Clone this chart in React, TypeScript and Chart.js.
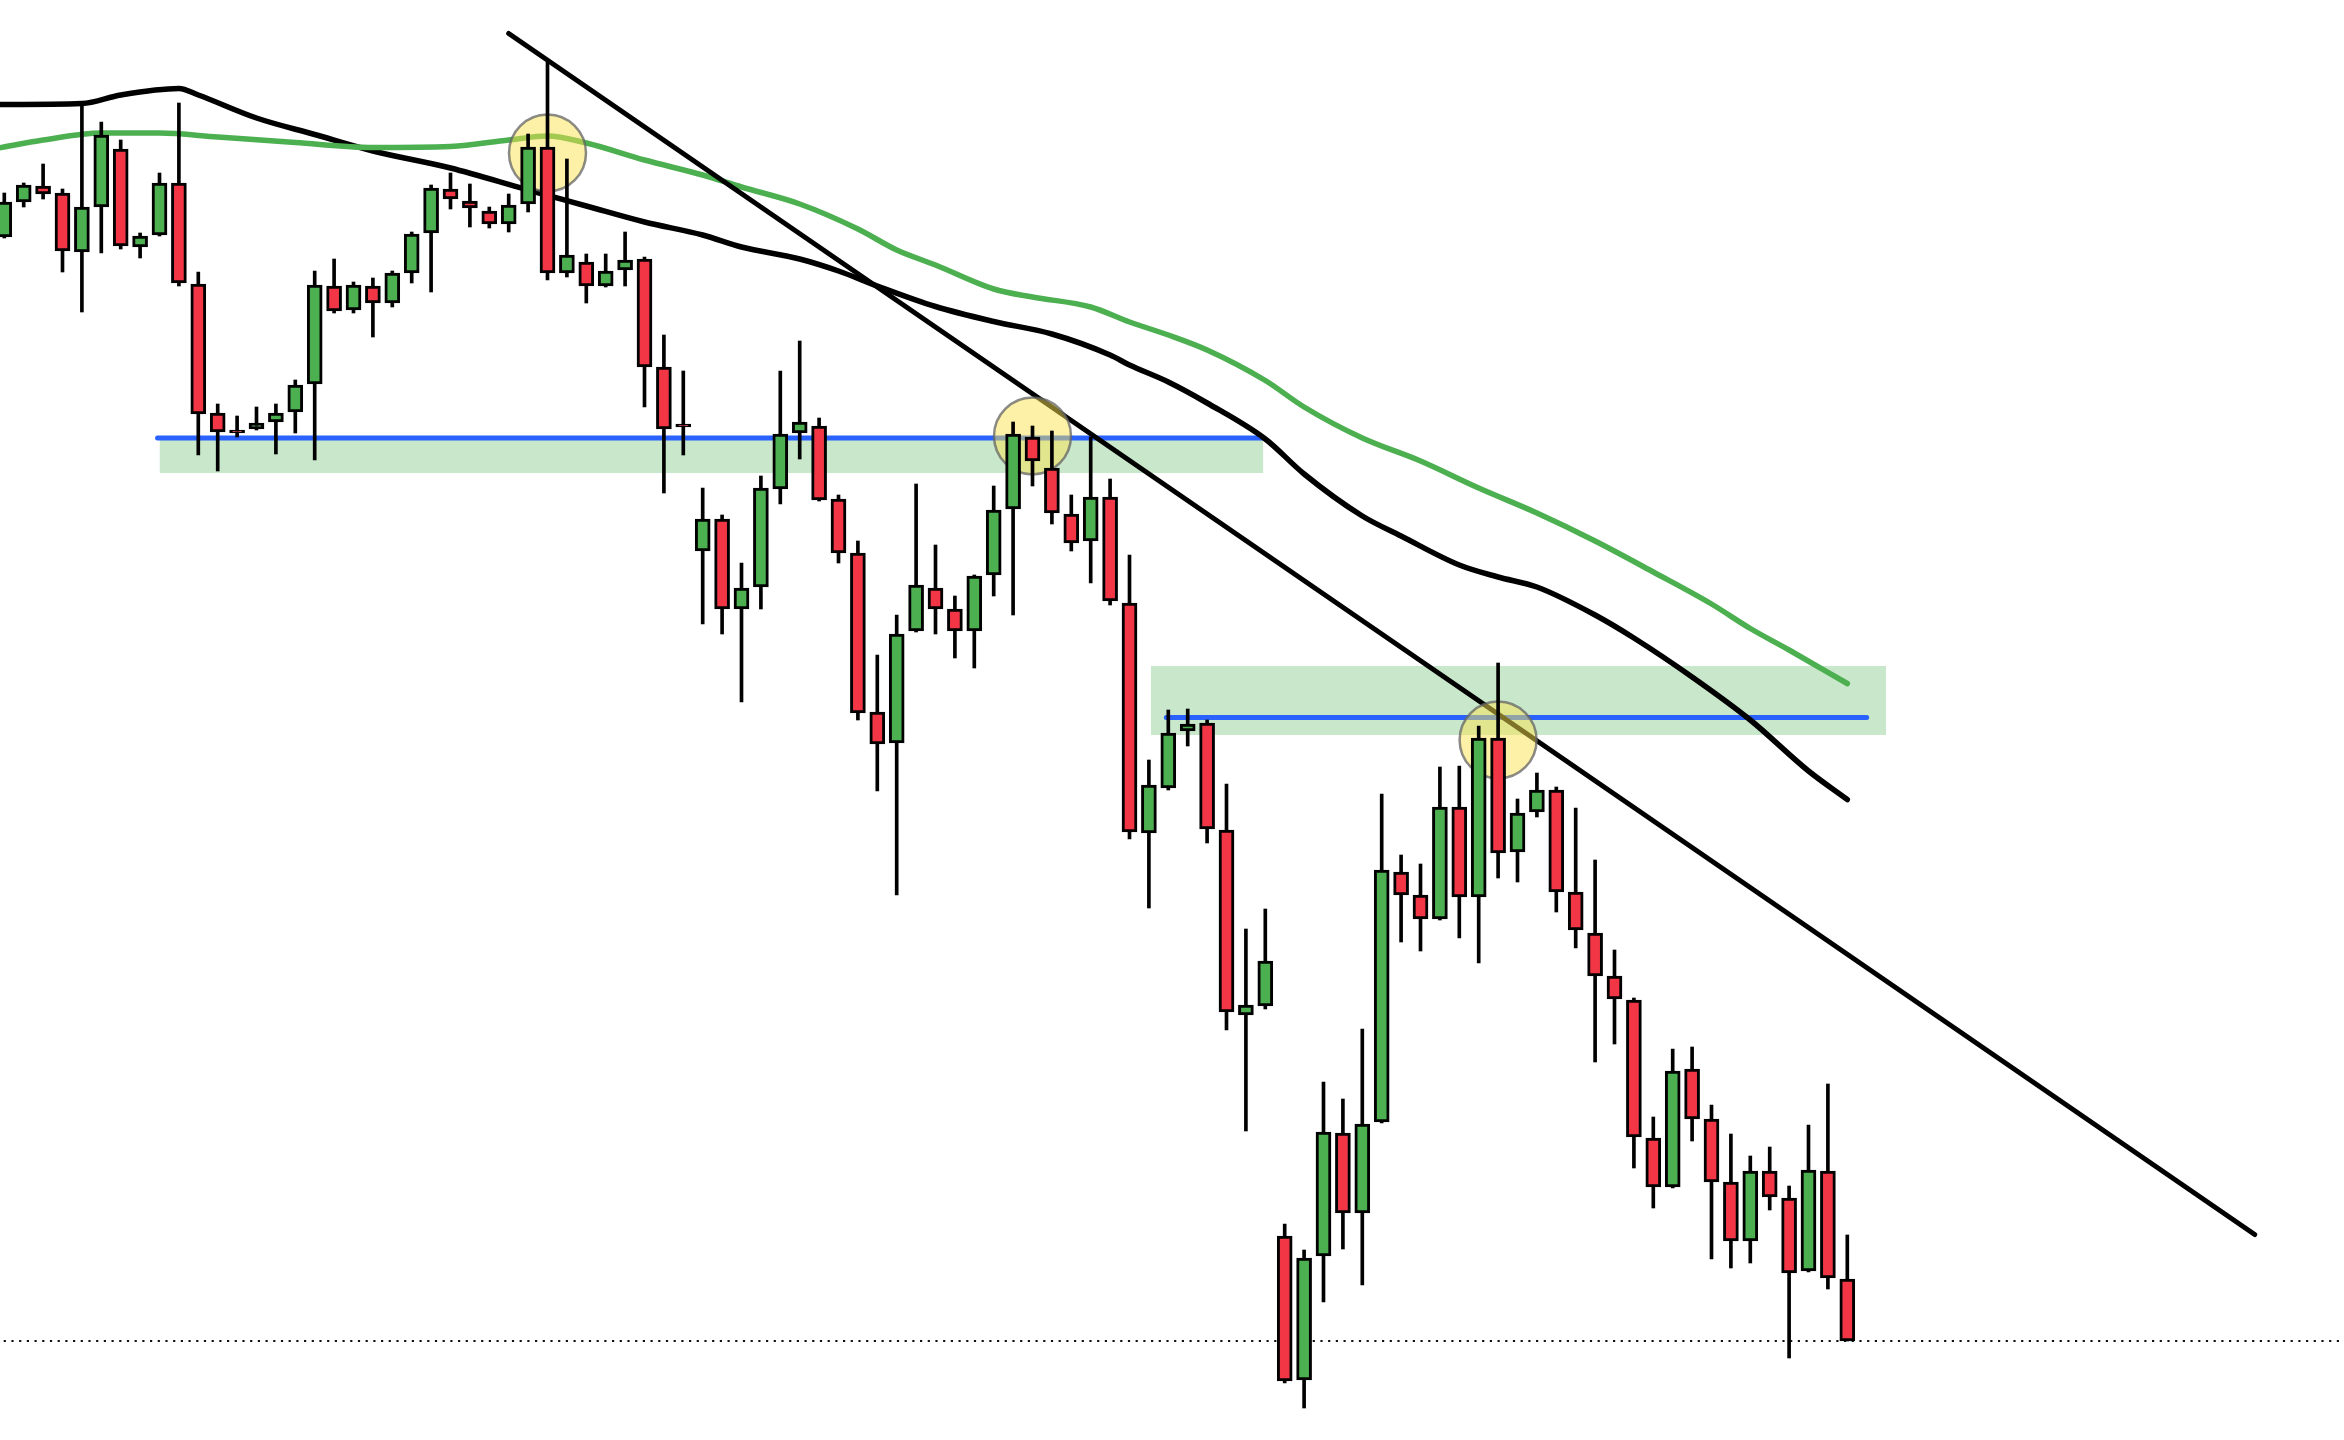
import { useEffect, useRef } from "react";
import { Chart, registerables } from "chart.js";

Chart.register(...registerables);

// ---- Candles (index = position on the time axis) ----
const opens = [
  1.2763, 1.2798, 1.2814, 1.2807, 1.2748, 1.2793, 1.2851, 1.2753, 1.2765, 1.2817,
  1.2716, 1.2587, 1.2570, 1.2571, 1.2578, 1.2588, 1.2616, 1.2714, 1.2690, 1.2714,
  1.2697, 1.2727, 1.2767, 1.2811, 1.2799, 1.2789, 1.2776, 1.2796, 1.2853, 1.2727,
  1.2738, 1.2714, 1.2730, 1.2741, 1.2633, 1.2576, 1.2449, 1.2481, 1.2391, 1.2413,
  1.2511, 1.2567, 1.2574, 1.2501, 1.2447, 1.2288, 1.2257, 1.2369, 1.2412, 1.2391,
  1.2369, 1.2425, 1.2491, 1.2563, 1.2532, 1.2486, 1.2459, 1.2503, 1.2397, 1.2167,
  1.2212, 1.2269, 1.2277, 1.2170, 1.1985, 1.1994, 1.1764, 1.1620, 1.1744, 1.1867,
  1.1787, 1.1878, 1.2128, 1.2105, 1.2081, 1.2193, 1.2103, 1.2262, 1.2148, 1.2188,
  1.2210, 1.2108, 1.2067, 1.2024, 1.2000, 1.1862, 1.1813, 1.1931, 1.1881, 1.1818,
  1.1759, 1.1829, 1.1802, 1.1729, 1.1829, 1.1721,
];
const highs = [
  1.2807, 1.2817, 1.2836, 1.2811, 1.2897, 1.2878, 1.2860, 1.2767, 1.2827, 1.2897,
  1.2728, 1.2596, 1.2584, 1.2593, 1.2596, 1.2620, 1.2729, 1.2741, 1.2718, 1.2722,
  1.2729, 1.2768, 1.2815, 1.2827, 1.2816, 1.2793, 1.2806, 1.2866, 1.2938, 1.2841,
  1.2746, 1.2746, 1.2768, 1.2743, 1.2665, 1.2629, 1.2512, 1.2485, 1.2437, 1.2524,
  1.2629, 1.2659, 1.2582, 1.2505, 1.2459, 1.2345, 1.2385, 1.2516, 1.2455, 1.2404,
  1.2425, 1.2514, 1.2578, 1.2574, 1.2569, 1.2505, 1.2563, 1.2521, 1.2445, 1.2240,
  1.2290, 1.2291, 1.2280, 1.2216, 1.2071, 1.2091, 1.1776, 1.1750, 1.1918, 1.1901,
  1.1971, 1.2206, 1.2145, 1.2136, 1.2233, 1.2234, 1.2274, 1.2337, 1.2201, 1.2227,
  1.2213, 1.2192, 1.2140, 1.2050, 1.2002, 1.1883, 1.1951, 1.1953, 1.1895, 1.1866,
  1.1844, 1.1853, 1.1814, 1.1875, 1.1916, 1.1765,
];
const lows = [
  1.2762, 1.2793, 1.2801, 1.2728, 1.2688, 1.2747, 1.2751, 1.2742, 1.2764, 1.2714,
  1.2545, 1.2529, 1.2563, 1.2570, 1.2546, 1.2567, 1.2540, 1.2687, 1.2687, 1.2663,
  1.2693, 1.2717, 1.2708, 1.2791, 1.2773, 1.2772, 1.2768, 1.2788, 1.2720, 1.2723,
  1.2697, 1.2713, 1.2714, 1.2593, 1.2507, 1.2545, 1.2376, 1.2366, 1.2298, 1.2391,
  1.2496, 1.2541, 1.2499, 1.2437, 1.2280, 1.2209, 1.2105, 1.2368, 1.2366, 1.2342,
  1.2332, 1.2404, 1.2385, 1.2514, 1.2476, 1.2449, 1.2417, 1.2395, 1.2161, 1.2092,
  1.2210, 1.2254, 1.2157, 1.1970, 1.1869, 1.1991, 1.1617, 1.1592, 1.1698, 1.1751,
  1.1715, 1.1877, 1.2058, 1.2049, 1.2080, 1.2062, 1.2037, 1.2122, 1.2118, 1.2183,
  1.2088, 1.2052, 1.1938, 1.1956, 1.1832, 1.1792, 1.1812, 1.1859, 1.1741, 1.1732,
  1.1737, 1.1790, 1.1642, 1.1728, 1.1711, 1.1659,
];
const closes = [
  1.2798, 1.2815, 1.2806, 1.2749, 1.2793, 1.2865, 1.2754, 1.2764, 1.2817, 1.2717,
  1.2586, 1.2568, 1.2567, 1.2577, 1.2587, 1.2615, 1.2715, 1.2689, 1.2715, 1.2697,
  1.2727, 1.2766, 1.2812, 1.2801, 1.2792, 1.2776, 1.2795, 1.2853, 1.2727, 1.2745,
  1.2714, 1.2729, 1.2740, 1.2633, 1.2571, 1.2573, 1.2481, 1.2391, 1.2412, 1.2512,
  1.2566, 1.2578, 1.2500, 1.2447, 1.2287, 1.2256, 1.2366, 1.2415, 1.2391, 1.2369,
  1.2424, 1.2490, 1.2566, 1.2539, 1.2487, 1.2457, 1.2503, 1.2399, 1.2168, 1.2215,
  1.2267, 1.2276, 1.2171, 1.1988, 1.1995, 1.2039, 1.1619, 1.1742, 1.1868, 1.1787,
  1.1876, 1.2130, 1.2105, 1.2081, 1.2193, 1.2103, 1.2262, 1.2147, 1.2187, 1.2210,
  1.2108, 1.2070, 1.2024, 1.2001, 1.1863, 1.1813, 1.1929, 1.1881, 1.1818, 1.1759,
  1.1829, 1.1803, 1.1727, 1.1830, 1.1722, 1.1659,
];

// ---- Moving averages (read at these candle indices) ----
const maSlowX = [-0.3, 4, 6, 9, 10, 13, 16, 19, 23, 27, 30, 33, 36, 38, 41, 43, 45, 48, 51, 54, 57, 58, 60, 62, 65, 67, 70, 72, 75, 77, 79, 82, 84, 87, 90, 93, 95];
const maSlowY = [
  1.28955, 1.28965, 1.2905, 1.29115, 1.2905, 1.2882, 1.28655, 1.2849, 1.2832, 1.2810,
  1.2794, 1.2778, 1.2765, 1.2753, 1.2741, 1.2729, 1.2714, 1.26935, 1.26785, 1.2666,
  1.2645, 1.2635, 1.2618, 1.2597, 1.2561, 1.2526, 1.2484, 1.2464, 1.2435, 1.2423,
  1.2413, 1.2385, 1.2362, 1.2323, 1.2280, 1.2229, 1.22005,
];
const maFastX = [-0.3, 2, 5, 8, 11, 15, 19, 23, 26, 28, 30, 33, 36, 38, 41, 44, 46, 48, 51, 53, 56, 58, 60, 62, 65, 67, 70, 73, 76, 79, 82, 85, 88, 90, 92, 95];
const maFastY = [
  1.2852, 1.2860, 1.2867, 1.2867, 1.2863, 1.28575, 1.28525, 1.28535, 1.2860, 1.2864,
  1.2857, 1.2840, 1.2825, 1.2813, 1.2796, 1.2771, 1.2750, 1.2735, 1.2711, 1.2703,
  1.2693, 1.2678, 1.2665, 1.2650, 1.26195, 1.2593, 1.2562, 1.2539, 1.2512, 1.2487,
  1.2459, 1.2428, 1.2396, 1.23715, 1.2350, 1.23165,
];

// ---- Drawn annotations ----
const trendX = [26, 116];
const trendY = [1.29665, 1.17655];

const levelStart = [7.9, 59.9];
const levelEnd = [64.9, 96.0];
const levelPrice = [1.2562, 1.22825];

const zoneStart = [8.0, 59.1];
const zoneEnd = [64.9, 97.0];
const zoneTop = [1.2560, 1.2334];
const zoneBottom = [1.2527, 1.2265];

const circleX = [28, 53, 77];
const circleY = [1.2847, 1.2564, 1.2260];

const lastPrice = 1.1659;

// scale bounds
const X_MIN = -0.2216;
const X_MAX = 120.603;
const Y_MIN = 1.156;
const Y_MAX = 1.3;

const UP = "#4caf50";
const DOWN = "#f23645";

export default function App() {
  const ref = useRef<HTMLCanvasElement>(null);

  useEffect(() => {
    const idx = opens.map((_, i) => i);
    const datasets: any[] = [];

    zoneStart.forEach((s, k) => {
      datasets.push({
        type: "line",
        data: [
          { x: s, y: zoneTop[k] },
          { x: zoneEnd[k], y: zoneTop[k] },
        ],
        borderWidth: 0,
        pointRadius: 0,
        backgroundColor: "rgba(76,175,80,0.3)",
        fill: { value: zoneBottom[k] },
        order: 20,
      });
    });

    levelStart.forEach((s, k) => {
      datasets.push({
        type: "line",
        data: [
          { x: s, y: levelPrice[k] },
          { x: levelEnd[k], y: levelPrice[k] },
        ],
        borderColor: "#2962ff",
        borderWidth: 5,
        borderCapStyle: "round",
        pointRadius: 0,
        fill: false,
        order: 18,
      });
    });

    datasets.push({
      type: "line",
      data: [
        { x: X_MIN - 1, y: lastPrice },
        { x: X_MAX + 1, y: lastPrice },
      ],
      borderColor: "#111",
      borderWidth: 2.2,
      borderDash: [2.2, 5.5],
      pointRadius: 0,
      fill: false,
      order: 17,
    });

    datasets.push({
      type: "line",
      data: maSlowX.map((x, i) => ({ x, y: maSlowY[i] })),
      borderColor: "#000",
      borderWidth: 5.5,
      borderCapStyle: "round",
      borderJoinStyle: "round",
      cubicInterpolationMode: "monotone",
      pointRadius: 0,
      fill: false,
      order: 15,
    });

    datasets.push({
      type: "line",
      data: maFastX.map((x, i) => ({ x, y: maFastY[i] })),
      borderColor: UP,
      borderWidth: 5.5,
      borderCapStyle: "round",
      borderJoinStyle: "round",
      cubicInterpolationMode: "monotone",
      pointRadius: 0,
      fill: false,
      order: 14,
    });

    datasets.push({
      type: "line",
      data: trendX.map((x, i) => ({ x, y: trendY[i] })),
      borderColor: "#000",
      borderWidth: 5,
      borderCapStyle: "round",
      pointRadius: 0,
      fill: false,
      order: 12,
    });

    datasets.push({
      type: "bubble",
      data: circleX.map((x, i) => ({ x, y: circleY[i], r: 38.5 })),
      backgroundColor: "rgba(250,228,80,0.5)",
      borderColor: "rgba(100,100,100,0.75)",
      borderWidth: 2.5,
      order: 11,
    });

    datasets.push({
      type: "bar",
      data: idx.map((i) => ({ x: i, y: [lows[i], highs[i]] })),
      backgroundColor: "#000",
      borderWidth: 0,
      barThickness: 3,
      grouped: false,
      order: 10,
    });

    datasets.push({
      type: "bar",
      data: idx.map((i) => ({ x: i, y: [opens[i], closes[i]] })),
      backgroundColor: idx.map((i) => (closes[i] > opens[i] ? UP : DOWN)),
      borderColor: "#000",
      borderWidth: 3,
      borderSkipped: false,
      barThickness: 15,
      grouped: false,
      order: 9,
    });

    const chart = new Chart(ref.current as HTMLCanvasElement, {
      type: "bar",
      data: { datasets },
      options: {
        responsive: false,
        animation: false,
        events: [],
        layout: { padding: 0, autoPadding: false },
        plugins: { legend: { display: false }, tooltip: { enabled: false } },
        scales: {
          x: {
            type: "linear",
            min: X_MIN,
            max: X_MAX,
            display: false,
            offset: false,
            bounds: "data",
          },
          y: {
            type: "linear",
            min: Y_MIN,
            max: Y_MAX,
            display: false,
            beginAtZero: false,
            bounds: "data",
          },
        },
      } as any,
    });
    return () => chart.destroy();
  }, []);

  return (
    <div
      style={{
        position: "fixed",
        left: 0,
        top: 0,
        width: 2344,
        height: 1440,
        background: "#ffffff",
        overflow: "hidden",
      }}
    >
      <canvas
        ref={ref}
        width={2344}
        height={1440}
        style={{ display: "block", width: 2344, height: 1440 }}
      />
    </div>
  );
}
